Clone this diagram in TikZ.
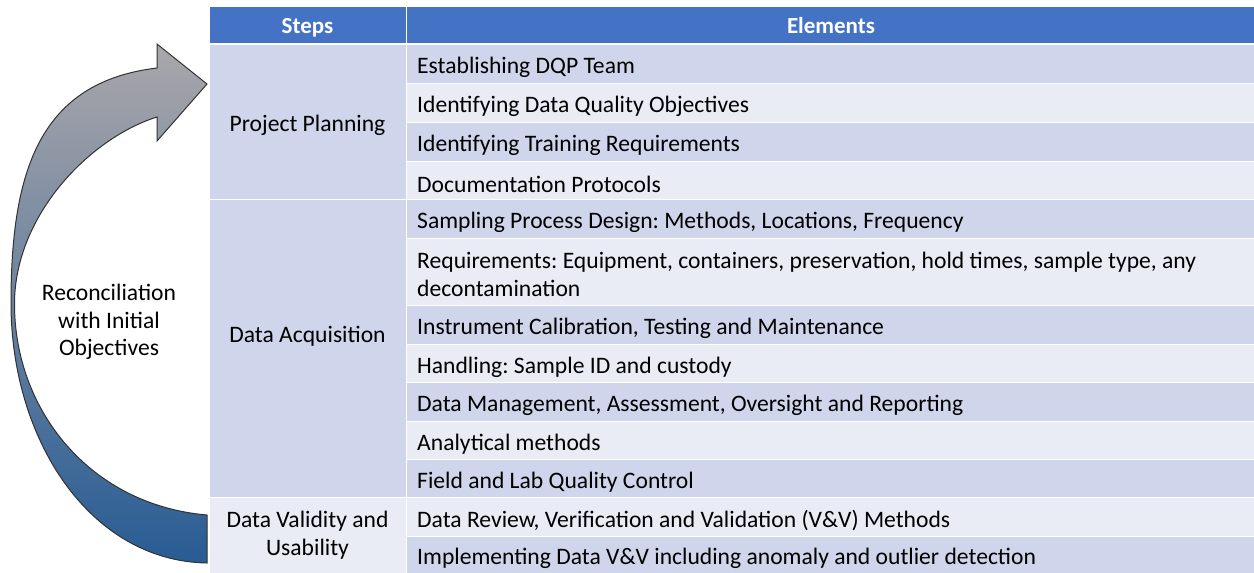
\documentclass[tikz,border=0pt]{standalone}
\usepackage{fontspec}
\setmainfont{Carlito}
\frenchspacing
\definecolor{hdr}{RGB}{68,114,196}
\definecolor{rowD}{RGB}{207,213,234}
\definecolor{rowL}{RGB}{233,235,245}
\definecolor{agray}{RGB}{170,167,170}
\definecolor{amid}{RGB}{128,142,168}
\definecolor{ablue}{RGB}{40,92,148}
\definecolor{aline}{RGB}{50,50,50}
\tikzset{
  txt/.style={inner sep=0pt, font=\fontsize{23.6}{27.5}\selectfont, text=black},
  hdrtxt/.style={inner sep=0pt, anchor=base, font=\fontsize{23}{27.5}\selectfont\bfseries, text=white},
}
\newcommand\elrow[5]{%
  \fill[#4] (407,#2+0.75) rectangle (1254,#3-0.75);
  \node[txt,anchor=west] (#1) at (417,{(#2+#3)/2+3.5}) {#5};
}
\begin{document}
\begin{tikzpicture}[x=1pt,y=-1pt]
\useasboundingbox (0,0) rectangle (1254,573);
\fill[white] (0,0) rectangle (1254,573);
% curved arrow
\shade[top color=agray, middle color=amid, bottom color=ablue, draw=aline, line width=1pt, line join=miter]
  (157,68) -- (157,44) -- (207,84) -- (157,141) -- (157,117)
  .. controls (90,138) and (15,215) .. (14.5,303)
  .. controls (14,410) and (90,505) .. (207,515)
  -- (207,563)
  .. controls (90,561) and (11,440) .. (11,303)
  .. controls (11,170) and (40,82) .. (157,68) -- cycle;
\node[txt,align=center] (recon) at (109,322) {Reconciliation\\with Initial\\Objectives};
% header
\fill[hdr] (210,7) rectangle (405.5,43);
\fill[hdr] (407,7) rectangle (1254,43);
\node[hdrtxt] (hsteps) at (307.5,33.5) {Steps};
\node[hdrtxt] (helem) at (831,33.5) {Elements};
% steps column
\fill[rowD] (210,44.75) rectangle (405.5,199);
\fill[rowD] (210,200.25) rectangle (405.5,496.75);
\fill[rowL] (210,498.25) rectangle (405.5,573);
\node[txt] (s1) at (307.5,125) {Project Planning};
\node[txt] (s2) at (307.5,336) {Data Acquisition};
\node[txt,align=center] (s3) at (307.5,535) {Data Validity and\\Usability};
% elements column
\elrow{e1}{44}{83.5}{rowD}{Establishing DQP Team}
\elrow{e2}{83.5}{122.5}{rowL}{Identifying Data Quality Objectives}
\elrow{e3}{122.5}{161.5}{rowD}{Identifying Training Requirements}
\elrow{e4}{161.5}{199.5}{rowL}{Documentation Protocols}
\elrow{e5}{199.5}{238.5}{rowD}{Sampling Process Design: Methods, Locations, Frequency}
\fill[rowL] (407,239.25) rectangle (1254,304.75);
\node[txt,anchor=west,align=left] (e6) at (417,274.5) {Requirements: Equipment, containers, preservation, hold times, sample type, any\\decontamination};
\elrow{e7}{305.5}{344.5}{rowD}{Instrument Calibration, Testing and Maintenance}
\elrow{e8}{344.5}{382.5}{rowL}{Handling: Sample ID and custody}
\elrow{e9}{382.5}{421.5}{rowD}{Data Management, Assessment, Oversight and Reporting}
\elrow{e10}{421.5}{459.5}{rowL}{Analytical methods}
\elrow{e11}{459.5}{497.5}{rowD}{Field and Lab Quality Control}
\elrow{e12}{497.5}{536.5}{rowL}{Data Review, Verification and Validation (V\&V) Methods}
\elrow{e13}{536.5}{574}{rowD}{Implementing Data V\&V including anomaly and outlier detection}
\end{tikzpicture}
\end{document}
